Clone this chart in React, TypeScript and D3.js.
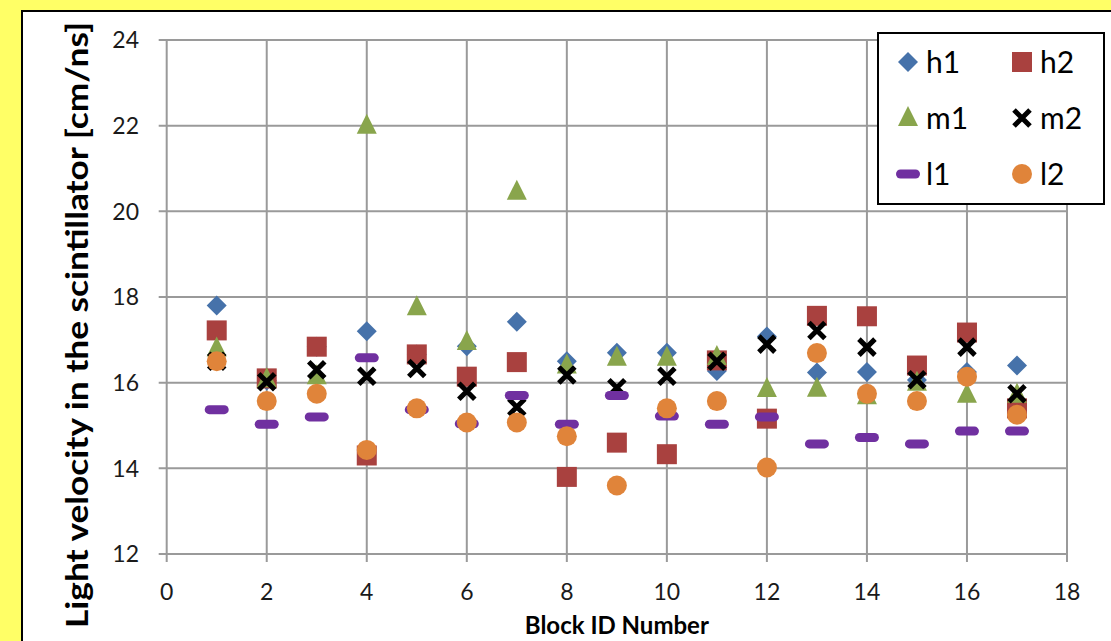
import React from "react";
import * as d3 from "d3";

const blocks = [1, 2, 3, 4, 5, 6, 7, 8, 9, 10, 11, 12, 13, 14, 15, 16, 17];
const h1 = [17.8, 16.05, 16.84, 17.2, 16.66, 16.85, 17.42, 16.5, 16.7, 16.7, 16.27, 17.08, 16.24, 16.25, 16.06, 16.25, 16.4];
const h2 = [17.22, 16.1, 16.84, 14.3, 16.66, 16.14, 16.48, 13.8, 14.6, 14.33, 16.52, 15.16, 17.56, 17.55, 16.4, 17.17, 15.4];
const m1 = [16.8, 16.08, 16.15, 22.0, 17.76, 16.95, 20.46, 16.4, 16.58, 16.58, 16.6, 15.85, 15.86, 15.68, 16.0, 15.72, 15.72];
const m2 = [16.5, 16.02, 16.3, 16.15, 16.33, 15.8, 15.43, 16.18, 15.88, 16.15, 16.5, 16.9, 17.22, 16.83, 16.07, 16.83, 15.74];
const l1 = [15.37, 15.03, 15.2, 16.58, 15.37, 15.04, 15.7, 15.03, 15.7, 15.22, 15.03, 15.2, 14.57, 14.72, 14.57, 14.87, 14.87];
const l2 = [16.5, 15.57, 15.74, 14.43, 15.4, 15.07, 15.07, 14.75, 13.6, 15.4, 15.57, 14.02, 16.69, 15.74, 15.57, 16.14, 15.25];

const xTicks = [0, 2, 4, 6, 8, 10, 12, 14, 16, 18];
const yTicks = [12, 14, 16, 18, 20, 22, 24];

const seriesNames = ["h1", "h2", "m1", "m2", "l1", "l2"];
const seriesValues = [h1, h2, m1, m2, l1, l2];
const seriesShapes = ["diamond", "square", "triangle", "cross", "dash", "circle"];
const seriesColors = ["#4672aa", "#a9413f", "#89a54c", "#000000", "#7030a0", "#e0843a"];

const FONT = "Lato, 'Open Sans', 'Liberation Sans', sans-serif";

function Marker({ shape, color, x, y }: { shape: string; color: string; x: number; y: number }) {
  switch (shape) {
    case "diamond":
      return <path d={`M${x},${y - 10}L${x + 10},${y}L${x},${y + 10}L${x - 10},${y}Z`} fill={color} />;
    case "square":
      return <rect x={x - 10} y={y - 10} width={20} height={20} fill={color} />;
    case "triangle":
      return <path d={`M${x},${y - 12}L${x + 10},${y + 8}L${x - 10},${y + 8}Z`} fill={color} />;
    case "cross":
      return (
        <path
          d={`M${x - 8},${y - 8}L${x + 8},${y + 8}M${x + 8},${y - 8}L${x - 8},${y + 8}`}
          stroke={color}
          strokeWidth={5}
          fill="none"
        />
      );
    case "dash":
      return <rect x={x - 12} y={y - 4.5} width={24} height={9} rx={4.5} fill={color} />;
    case "circle":
      return <circle cx={x} cy={y} r={10} fill={color} />;
    default:
      return null;
  }
}

export default function App() {
  const W = 1111;
  const H = 641;
  const x = d3.scaleLinear().domain([0, 18]).range([166.7, 1067]);
  const y = d3.scaleLinear().domain([12, 24]).range([554, 40]);

  const legendRows = [
    [0, 1],
    [2, 3],
    [4, 5],
  ];

  return (
    <svg
      width={W}
      height={H}
      style={{ position: "absolute", left: 0, top: 0, display: "block" }}
      fontFamily={FONT}
    >
      <rect x={0} y={0} width={W} height={H} fill="#ffff66" />
      <rect x={22} y={11} width={W + 10} height={H + 10} fill="#ffffff" stroke="#000" strokeWidth={2} />

      {/* gridlines */}
      {xTicks.map((t) => (
        <line key={"gx" + t} x1={x(t)} x2={x(t)} y1={y(24)} y2={y(12) + 8} stroke="#9a9a9a" strokeWidth={2} />
      ))}
      {yTicks.map((t) => (
        <line key={"gy" + t} x1={x(0) - 8} x2={x(18)} y1={y(t)} y2={y(t)} stroke="#9a9a9a" strokeWidth={2} />
      ))}

      {/* tick labels */}
      {yTicks.map((t) => (
        <text key={"ly" + t} x={139} y={y(t)} dy="0.36em" textAnchor="end" fontSize={23} fill="#1a1a1a">
          {t}
        </text>
      ))}
      {xTicks.map((t) => (
        <text key={"lx" + t} x={x(t)} y={592} dy="0.36em" textAnchor="middle" fontSize={23} fill="#1a1a1a">
          {t}
        </text>
      ))}

      {/* axis titles */}
      <text
        transform={`translate(77,325) rotate(-90)`}
        textAnchor="middle"
        dy="0.36em"
        fontSize={30}
        fontWeight="bold"
        fill="#000"
        textLength={606}
        lengthAdjust="spacingAndGlyphs"
      >
        Light velocity in the scintillator [cm/ns]
      </text>
      <text x={x(9)} y={634} textAnchor="middle" fontSize={24} fontWeight="bold" fill="#000">
        Block ID Number
      </text>

      {/* data */}
      {seriesValues.map((vals, si) => (
        <g key={seriesNames[si]}>
          {vals.map((v, i) => (
            <Marker key={i} shape={seriesShapes[si]} color={seriesColors[si]} x={x(blocks[i])} y={y(v)} />
          ))}
        </g>
      ))}

      {/* legend */}
      <rect x={878} y={33} width={226} height={171} fill="#fff" stroke="#000" strokeWidth={2} />
      {legendRows.map((row, ri) =>
        row.map((si, ci) => {
          const cy = 62 + ri * 56;
          const mx = ci === 0 ? 908 : 1022;
          return (
            <g key={"lg" + si}>
              <Marker shape={seriesShapes[si]} color={seriesColors[si]} x={mx} y={cy} />
              <text x={mx + 18} y={cy} dy="0.36em" fontSize={30} fill="#000">
                {seriesNames[si]}
              </text>
            </g>
          );
        })
      )}
    </svg>
  );
}
